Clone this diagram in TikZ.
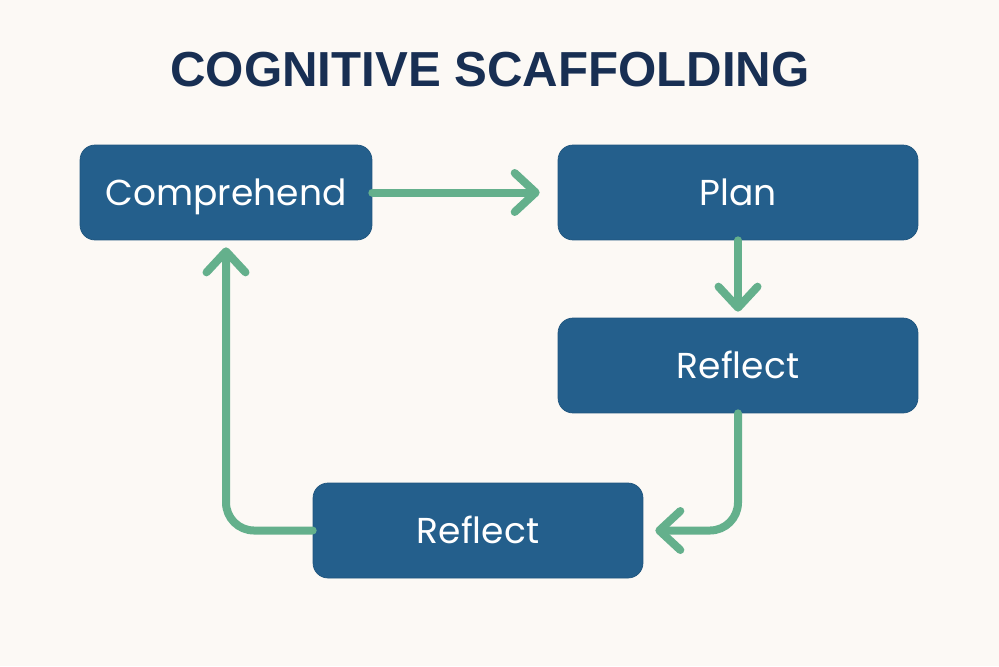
\documentclass[tikz,border=0pt]{standalone}
\usepackage{fontspec}
\setmainfont{Liberation Sans}
\newfontfamily\boxfont{Poppins}
\usetikzlibrary{arrows.meta}
\definecolor{bgcol}{HTML}{FCF9F5}
\definecolor{boxblue}{HTML}{245F8C}
\definecolor{flowgreen}{HTML}{64B08C}
\definecolor{titleblue}{HTML}{182F53}
\begin{document}
\begin{tikzpicture}[x=0.02cm, y=-0.02cm,
      stage/.style={fill=boxblue, draw=boxblue!90!black, line width=0.4pt,
        rounded corners=0.3cm, minimum height=1.9cm, text=white,
        text height=14.4pt, text depth=0pt,
        font=\boxfont\fontsize{20.5}{24}\selectfont},
      flow/.style={draw=flowgreen, line width=0.16cm, line cap=round,
        rounded corners=0.56cm,
        -{Straight Barb[length=0.42cm, width=0.78cm, round]}},]
    \fill[bgcol] (0,0) rectangle (999,666);
    \node[text=titleblue, font=\bfseries\fontsize{28}{32}\selectfont] (title) at (490,70) {COGNITIVE SCAFFOLDING};
    \node[stage, minimum width=5.84cm] (comp) at (226,192.5) {Comprehend};
    \node[stage, minimum width=7.2cm] (plan) at (738,192.5) {Plan};
    \node[stage, minimum width=7.2cm] (refl) at (738,365.5) {Reflect};
    \node[stage, minimum width=6.6cm] (refl2) at (478,530.5) {Reflect};
    \draw[flow, shorten >=0.36cm] (comp) -- (plan);
    \draw[flow, shorten >=0.12cm] (plan) -- (refl);
    \draw[flow, shorten >=0.24cm] (refl.south) |- (refl2.east);
    \draw[flow, shorten >=0.14cm] (refl2.west) -| (comp.south);
  \end{tikzpicture}
\end{document}
